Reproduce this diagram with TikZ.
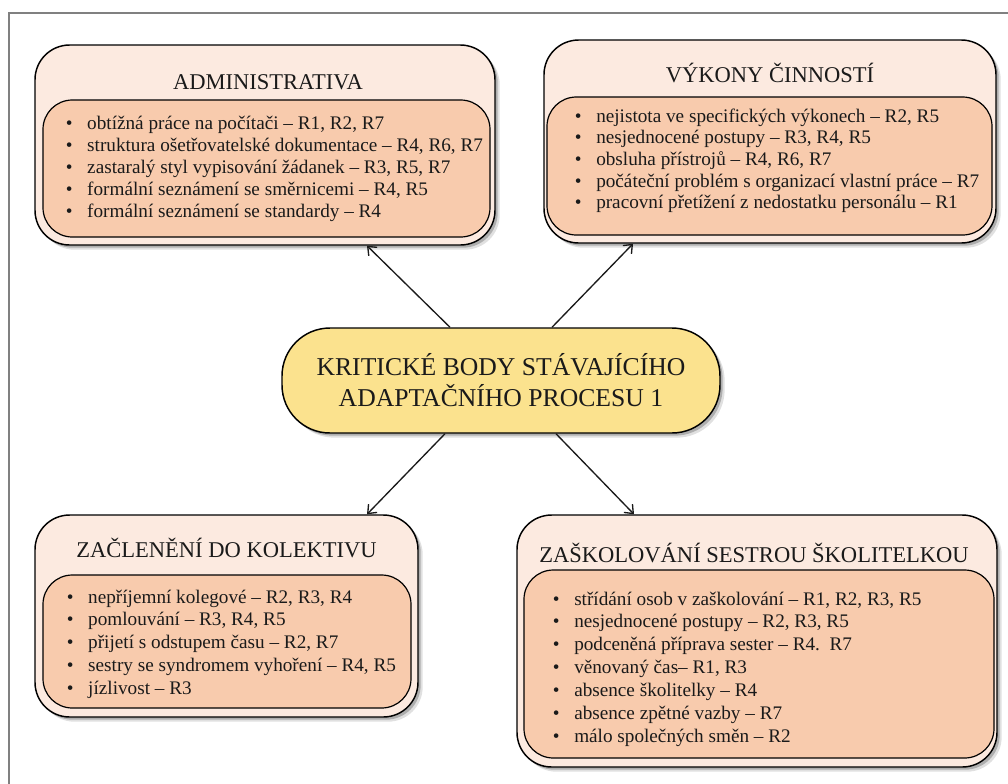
\documentclass[tikz,border=0pt]{standalone}
\usepackage{fontspec}
\setmainfont{Liberation Serif}
\usetikzlibrary{shadows,arrows.meta,calc}
\definecolor{outerfill}{HTML}{FCEAE0}
\definecolor{innerfill}{HTML}{F8CBAD}
\definecolor{centerfill}{HTML}{FBE28E}
\definecolor{framegray}{HTML}{808080}
\definecolor{inkc}{HTML}{1A1A1A}
\begin{document}
\begin{tikzpicture}[x=0.75pt,y=-0.75pt,
  boxshadow/.style={general shadow={shadow xshift=3.5pt,shadow yshift=-3.5pt,opacity=0.12,fill=black},
                    general shadow={shadow xshift=2pt,shadow yshift=-2pt,opacity=0.22,fill=black}},
  outerbox/.style={draw=black,line width=1.1pt,fill=outerfill,rounded corners=26pt,inner sep=0pt,boxshadow},
  innerbox/.style={draw=black,line width=0.9pt,fill=innerfill,rounded corners=22pt,inner sep=0pt},
  centerbox/.style={draw=black,line width=1.1pt,fill=centerfill,rounded corners=36pt,inner sep=0pt,boxshadow,
    align=center,text=inkc,font=\fontsize{19.25}{23.25}\selectfont},
  boxtitle/.style={text=inkc,inner sep=0pt,font=\fontsize{16.9}{19}\selectfont},
  item/.style={anchor=base west,inner sep=0pt,text=inkc,font=\fontsize{14.4}{17}\selectfont},
  arr/.style={draw=inkc,line width=1pt,-{Straight Barb[length=5.5pt,width=9pt]}}
]
\useasboundingbox (0,0) rectangle (1008,783);
\fill[white] (0,0) rectangle (1008,783);
\draw[framegray,line width=1.2pt] (9,790) -- (9,13) -- (1015,13);

% ADMINISTRATIVA
\node[outerbox,minimum width=345pt,minimum height=150pt] (adm) at (265,145) {};
\node[innerbox,minimum width=335.25pt,minimum height=102.75pt] (admin) at (266.5,168.5) {};
\node[boxtitle] (admt) at (268,82) {ADMINISTRATIVA};
\foreach \t [count=\i] in {{obtížná práce na počítači – R1, R2, R7},
  {struktura ošetřovatelské dokumentace – R4, R6, R7},
  {zastaralý styl vypisování žádanek – R3, R5, R7},
  {formální seznámení se směrnicemi – R4, R5},
  {formální seznámení se standardy – R4}}
  \node[item] (adl\i) at (87,{129+22.2*(\i-1)}) {\llap{\textbullet\hspace{11pt}}\t};

% VYKONY CINNOSTI
\node[outerbox,minimum width=339pt,minimum height=152.25pt] (vyk) at (770,141.5) {};
\node[innerbox,minimum width=333.75pt,minimum height=103.5pt] (vykin) at (769.5,166) {};
\node[boxtitle] (vykt) at (770,73) {VÝKONY ČINNOSTÍ};
\foreach \t [count=\i] in {{nejistota ve specifických výkonech – R2, R5},
  {nesjednocené postupy – R3, R4, R5},
  {obsluha přístrojů – R4, R6, R7},
  {počáteční problém s organizací vlastní práce – R7},
  {pracovní přetížení z nedostatku personálu – R1}}
  \node[item] (vyl\i) at (596,{122+21.7*(\i-1)}) {\llap{\textbullet\hspace{11pt}}\t};

% ZACLENENI
\node[outerbox,minimum width=287.25pt,minimum height=151.5pt] (zac) at (226.5,616) {};
\node[innerbox,minimum width=276pt,minimum height=99.75pt] (zacin) at (227,641.5) {};
\node[boxtitle] (zact) at (226.5,548) {ZAČLENĚNÍ DO KOLEKTIVU};
\foreach \t [count=\i] in {{nepříjemní kolegové – R2, R3, R4},
  {pomlouvání – R3, R4, R5},
  {přijetí s odstupem času – R2, R7},
  {sestry se syndromem vyhoření – R4, R5},
  {jízlivost – R3}}
  \node[item] (zal\i) at (88,{603+22.9*(\i-1)}) {\llap{\textbullet\hspace{11pt}}\t};

% ZASKOLOVANI
\node[outerbox,minimum width=360pt,minimum height=189pt] (zas) at (757,641) {};
\node[innerbox,minimum width=352.5pt,minimum height=141pt] (zasin) at (759,664) {};
\node[boxtitle] (zast) at (754,553) {ZAŠKOLOVÁNÍ SESTROU ŠKOLITELKOU};
\foreach \t [count=\i] in {{střídání osob v zaškolování – R1, R2, R3, R5},
  {nesjednocené postupy – R2, R3, R5},
  {podceněná příprava sester – R4.\ \ R7},
  {věnovaný čas– R1, R3},
  {absence školitelky – R4},
  {absence zpětné vazby – R7},
  {málo společných směn – R2}}
  \node[item] (zsl\i) at (574,{605+22.9*(\i-1)}) {\llap{\textbullet\hspace{11pt}}\t};

% CENTER
\node[centerbox,minimum width=328.5pt,minimum height=78.75pt] (cen) at (501,380.5)
  {KRITICKÉ BODY STÁVAJÍCÍHO\\ADAPTAČNÍHO PROCESU 1};

% ARROWS
\draw[arr] ([xshift=-38.25pt]cen.north) -- ([xshift=76.5pt]adm.south);
\draw[arr] ([xshift=38.25pt]cen.north) -- ([xshift=-102.75pt]vyk.south);
\draw[arr] ([xshift=-42pt]cen.south) -- ([xshift=105.4pt]zac.north);
\draw[arr] ([xshift=41.25pt]cen.south) -- ([xshift=-92.25pt]zas.north);
\end{tikzpicture}
\end{document}
